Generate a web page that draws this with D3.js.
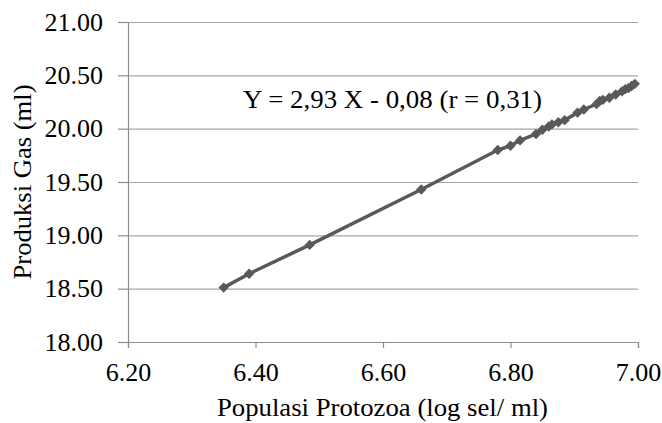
<!DOCTYPE html>
<html>
<head>
<meta charset="utf-8">
<script src="https://cdn.jsdelivr.net/npm/d3@7"></script>
<style>
  html, body { margin: 0; padding: 0; background: #fff; overflow: hidden; }
  svg { display: block; }
  .grid line { stroke: #a6a6a6; stroke-width: 1.2; }
  .grid .domain { display: none; }
  .axis .domain, .axis line { stroke: #8c8c8c; stroke-width: 1.2; }
</style>
</head>
<body>
<div id="chart"></div>
<script>
// Data
const protozoa = [6.35, 6.39, 6.485, 6.66, 6.78, 6.80, 6.815, 6.84, 6.85, 6.86, 6.865, 6.875,
    6.885, 6.905, 6.915, 6.935, 6.94, 6.945, 6.955, 6.965, 6.975, 6.98, 6.985, 6.99, 6.995];
const gas = [18.51, 18.64, 18.91, 19.43, 19.80, 19.84, 19.89, 19.95, 19.99, 20.02, 20.04, 20.06,
    20.08, 20.15, 20.18, 20.23, 20.26, 20.27, 20.29, 20.32, 20.35, 20.37, 20.38, 20.40, 20.42];
const xTicks = [6.2, 6.4, 6.6, 6.8, 7.0];
const yTicks = [18.0, 18.5, 19.0, 19.5, 20.0, 20.5, 21.0];
const equation = "Y = 2,93 X - 0,08 (r = 0,31)";

const data = protozoa.map((x, i) => ({ x: x, y: gas[i] }));

const serif = "Liberation Serif";

const width = 662;
const height = 423;
const margin = { top: 22, right: 24, bottom: 81, left: 128 };
const innerWidth = width - margin.left - margin.right;
const innerHeight = height - margin.top - margin.bottom;

const svg = d3.select("#chart")
    .append("svg")
    .attr("width", width)
    .attr("height", height)
    .attr("font-family", serif);

const innerChart = svg.append("g")
    .attr("transform", `translate(${margin.left}, ${margin.top})`);

const xScale = d3.scaleLinear().domain([6.2, 7.0]).range([0, innerWidth]);
const yScale = d3.scaleLinear().domain([18, 21]).range([innerHeight, 0]);

// grid first
innerChart.append("g")
    .attr("class", "grid")
    .call(d3.axisLeft(yScale).tickValues(yTicks.slice(1)).tickSize(-innerWidth).tickFormat(""));

const leftAxis = d3.axisLeft(yScale)
    .tickValues(yTicks)
    .tickSize(10)
    .tickPadding(15)
    .tickFormat(d3.format(".2f"));

const bottomAxis = d3.axisBottom(xScale)
    .tickValues(xTicks)
    .tickSize(6)
    .tickFormat(d3.format(".2f"));

// d3 puts font-family="sans-serif" on each axis group, so override it there
innerChart.append("g")
    .attr("class", "axis")
    .call(leftAxis)
    .attr("font-family", serif)
    .attr("font-size", 26)
    .call(g => g.selectAll("text").attr("fill", "#000"));

innerChart.append("g")
    .attr("class", "axis")
    .attr("transform", `translate(0, ${innerHeight})`)
    .call(bottomAxis)
    .attr("font-family", serif)
    .attr("font-size", 26)
    .call(g => g.selectAll("text")
        .attr("fill", "#000")
        .attr("y", 39)
        .attr("dy", null));

const grey = "#595959";

const lineGenerator = d3.line()
    .x(d => xScale(d.x))
    .y(d => yScale(d.y));

innerChart.append("path")
    .attr("d", lineGenerator(data))
    .attr("stroke", grey)
    .attr("stroke-width", 3.5)
    .attr("fill", "none");

const diamond = d3.symbol().type(d3.symbolDiamond2).size(68);

innerChart.selectAll(".marker")
    .data(data)
    .join("path")
    .attr("class", "marker")
    .attr("d", diamond)
    .attr("transform", d => `translate(${xScale(d.x)}, ${yScale(d.y)})`)
    .attr("fill", grey);

svg.append("text")
    .attr("x", 243)
    .attr("y", 108)
    .attr("font-size", 26)
    .attr("textLength", 299)
    .attr("lengthAdjust", "spacingAndGlyphs")
    .text(equation);

svg.append("text")
    .attr("x", 217)
    .attr("y", 416)
    .attr("font-size", 26)
    .attr("textLength", 331)
    .attr("lengthAdjust", "spacingAndGlyphs")
    .text("Populasi Protozoa (log sel/ ml)");

svg.append("text")
    .attr("transform", `translate(31, ${margin.top + innerHeight / 2}) rotate(-90)`)
    .attr("text-anchor", "middle")
    .attr("font-size", 26)
    .attr("textLength", 195)
    .attr("lengthAdjust", "spacingAndGlyphs")
    .text("Produksi Gas (ml)");
</script>
</body>
</html>
